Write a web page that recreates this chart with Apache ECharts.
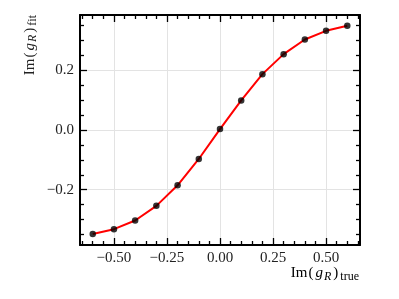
<!DOCTYPE html>
<html>
<head>
<meta charset="utf-8">
<script src="https://cdn.jsdelivr.net/npm/echarts@6/dist/echarts.min.js"></script>
<style>html,body{margin:0;padding:0;background:#fff;}#c{width:399px;height:299px;}</style>
</head>
<body>
<div id="c"></div>
<script>
const xValues = [-0.6, -0.5, -0.4, -0.3, -0.2, -0.1, 0.0, 0.1, 0.2, 0.3, 0.4, 0.5, 0.6];
const yValues = [-0.348, -0.332, -0.303, -0.254, -0.185, -0.097, 0.003, 0.099, 0.187, 0.254, 0.303, 0.332, 0.349];
const xMajorTicks = [-0.5, -0.25, 0, 0.25, 0.5];
const xTickLabels = ['\u22120.50', '\u22120.25', '0.00', '0.25', '0.50'];
const xMinorTicks = [-0.65, -0.6, -0.55, -0.45, -0.4, -0.35, -0.3, -0.2, -0.15, -0.1, -0.05, 0.05, 0.1, 0.15, 0.2, 0.3, 0.35, 0.4, 0.45, 0.55, 0.6, 0.65];
const yMajorTicks = [-0.2, 0, 0.2];
const yTickLabels = ['\u22120.2', '0.0', '0.2'];
const yMinorTicks = [-0.35, -0.3, -0.25, -0.15, -0.1, -0.05, 0.05, 0.1, 0.15, 0.25, 0.3, 0.35];
const xRange = [-0.66, 0.66];
const yRange = [-0.385, 0.385];

const FONT = 'Liberation Serif';
function labelFor(ticks, labels) {
  return function (v) {
    for (let i = 0; i < ticks.length; i++) if (Math.abs(ticks[i] - v) < 1e-6) return labels[i];
    return '';
  };
}
function mkAxis(dim, pos, major, showLine, showLabel) {
  const isX = dim === 'x';
  const range = isX ? xRange : yRange;
  const ticks = major ? (isX ? xMajorTicks : yMajorTicks) : (isX ? xMinorTicks : yMinorTicks);
  return {
    type: 'value', position: pos, min: range[0], max: range[1], offset: 0,
    axisLine: { show: showLine, onZero: false, lineStyle: { color: '#000', width: 2 } },
    axisTick: { show: true, inside: true, length: major ? 7 : 4, customValues: ticks, lineStyle: { color: '#000', width: 1.3 } },
    axisLabel: showLabel ? {
      show: true, customValues: ticks, margin: 6, color: '#222', fontFamily: FONT, fontSize: 15,
      formatter: labelFor(ticks, isX ? xTickLabels : yTickLabels)
    } : { show: false },
    splitLine: { show: major && showLabel, lineStyle: { color: '#e3e3e3', width: 1 } },
    minorTick: { show: false }
  };
}
const chart = echarts.init(document.getElementById('c'), null, { renderer: 'canvas' });
const subStyle = { fontFamily: FONT, fontSize: 12, lineHeight: 11, verticalAlign: 'bottom', color: '#222' };
const rich = {
  a: { fontFamily: FONT, fontSize: 15, lineHeight: 18, color: '#222' },
  p: { fontFamily: FONT, fontSize: 15, lineHeight: 18, color: '#222', padding: [0, 1, 0, 1] },
  i: { fontFamily: FONT, fontSize: 15, fontStyle: 'italic', lineHeight: 18, color: '#222', padding: [0, 1, 0, 1] },
  si: Object.assign({}, subStyle, { fontStyle: 'italic', padding: [0, 1, 0, 0] }),
  s: Object.assign({}, subStyle, { padding: [0, 0, 0, 1] })
};
const yName = '{a|Im}{p|(}{i|g}{si|R}{p|)}{s|fit}';
const xName = '{a|Im}{p|(}{i|g}{si|R}{p|)}{s|true}';
const yAxes = [
  mkAxis('y', 'left', true, true, true),
  mkAxis('y', 'left', false, false, false),
  mkAxis('y', 'right', true, true, false),
  mkAxis('y', 'right', false, false, false)
];
Object.assign(yAxes[0], {
  name: yName, nameLocation: 'end', nameRotate: 90, nameGap: 0,
  nameTextStyle: { rich: rich, align: 'right', verticalAlign: 'bottom', padding: [0, 0, 41, 0] }
});
const xAxes = [
  mkAxis('x', 'bottom', true, true, true),
  mkAxis('x', 'bottom', false, false, false),
  mkAxis('x', 'top', true, true, false),
  mkAxis('x', 'top', false, false, false)
];
chart.setOption({
  animation: false,
  backgroundColor: '#fff',
  grid: { left: 80, top: 15, right: 39, bottom: 54, containLabel: false },
  xAxis: xAxes,
  yAxis: yAxes,
  series: [
    { type: 'line', data: xValues.map((x, i) => [x, yValues[i]]), showSymbol: false, smooth: false,
      lineStyle: { color: '#ff0000', width: 2 }, z: 2 },
    { type: 'scatter', data: xValues.map((x, i) => [x, yValues[i]]), symbolSize: 6.5,
      itemStyle: { color: '#000' }, z: 3 }
  ],
  graphic: [
    { type: 'text', right: 40, top: 266,
      style: { text: xName, rich: rich } }
  ]
});
</script>
</body>
</html>
